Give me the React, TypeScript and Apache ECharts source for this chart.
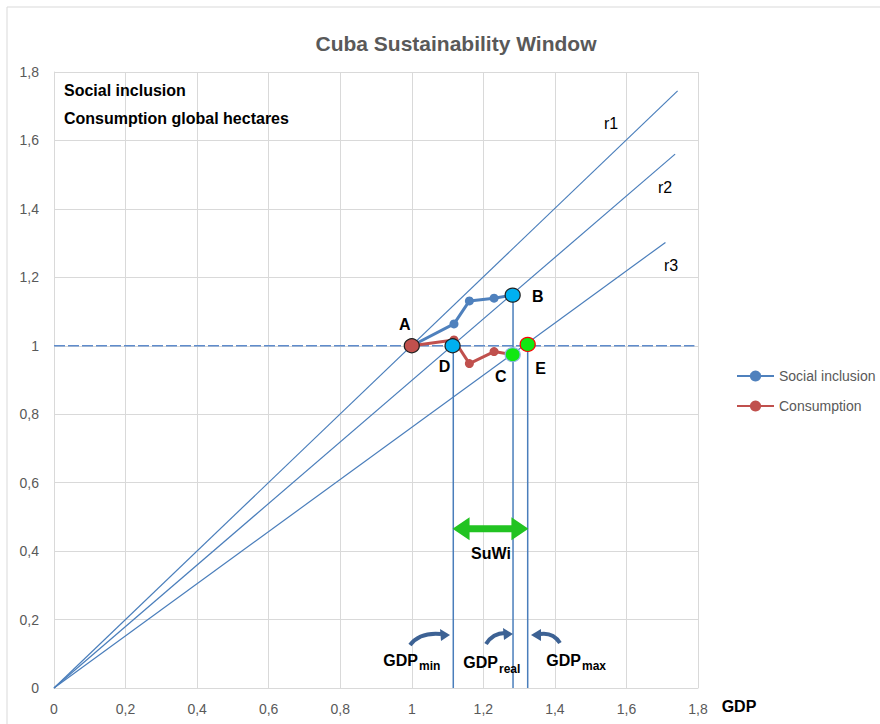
import React, { useEffect, useRef } from "react";
import * as echarts from "echarts";

// ---- data ----
const socialInclusion: [number, number][] = [
  [1.0, 1.0],
  [1.118, 1.064],
  [1.161, 1.131],
  [1.23, 1.139],
  [1.282, 1.148],
];
const consumption: [number, number][] = [
  [1.0, 1.0],
  [1.118, 1.017],
  [1.161, 0.948],
  [1.23, 0.983],
  [1.282, 0.974],
];
const rayR1: [number, number][] = [[0, 0], [1.743, 1.745]];
const rayR2: [number, number][] = [[0, 0], [1.736, 1.56]];
const rayR3: [number, number][] = [[0, 0], [1.709, 1.302]];
const baseline: [number, number][] = [[0, 1], [1.79, 1]];
const pointNames = ["A", "D", "B", "C", "E"];
const pointValues: [number, number][] = [
  [1.0, 1.0],
  [1.114, 1.0],
  [1.282, 1.148],
  [1.282, 0.974],
  [1.324, 1.004],
];
const gdpMinLine: [number, number][] = [[1.116, 1.0], [1.116, 0]];
const gdpRealLine: [number, number][] = [[1.283, 1.148], [1.283, 0]];
const gdpMaxLine: [number, number][] = [[1.324, 1.004], [1.324, 0]];
const suwiFrom: [number, number] = [1.114, 0.465];
const suwiTo: [number, number] = [1.326, 0.465];
const axisTicks = [0, 0.2, 0.4, 0.6, 0.8, 1, 1.2, 1.4, 1.6, 1.8];

const FONT = "'Liberation Sans', Arial, sans-serif";
const LINE_BLUE = "#4a7ebb";

const fmt = (v: number) => {
  const r = Math.round(v * 10) / 10;
  return Number.isInteger(r) ? String(r) : r.toFixed(1).replace(".", ",");
};

const pointStyles = [
  { color: "#c0504d", borderColor: "#1f1f1f", label: { offset: [-7, -21] } },
  { color: "#00b0f0", borderColor: "#1f1f1f", label: { offset: [-8, 21] } },
  { color: "#00b0f0", borderColor: "#1f1f1f", label: { offset: [25, 1] } },
  { color: "#11e811", borderColor: "#8fb4e3", label: { offset: [-12, 22] } },
  { color: "#11e811", borderColor: "#ff0000", label: { offset: [13, 24] } },
];

export default function App() {
  const ref = useRef<HTMLDivElement>(null);
  useEffect(() => {
    if (!ref.current) return;
    const chart = echarts.init(ref.current, undefined, { renderer: "svg" });
    const thinLine = (name: string, data: [number, number][], extra: any = {}) => ({
      name,
      type: "line",
      data,
      symbol: "none",
      silent: true,
      clip: false,
      lineStyle: { color: LINE_BLUE, width: 1.2, ...extra },
      z: 2,
    });
    chart.setOption({
      animation: false,
      backgroundColor: "#ffffff",
      textStyle: { fontFamily: FONT },
      grid: { left: 54, top: 72, right: 182, bottom: 36, containLabel: false, outerBoundsMode: "none" },
      legend: {
        data: ["Social inclusion", "Consumption"],
        orient: "vertical",
        left: 731,
        top: 364,
        itemWidth: 37,
        itemHeight: 14,
        itemGap: 16,
        textStyle: { color: "#595959", fontSize: 14, fontFamily: FONT },
      },
      xAxis: {
        type: "value",
        min: axisTicks[0],
        max: axisTicks[axisTicks.length - 1],
        interval: 0.2,
        axisLine: { show: true, lineStyle: { color: "#d9d9d9" } },
        axisTick: { show: false },
        splitLine: { show: true, lineStyle: { color: "#d9d9d9" } },
        axisLabel: { color: "#595959", fontSize: 14, margin: 14, formatter: fmt, showMaxLabel: true },
      },
      yAxis: {
        type: "value",
        min: axisTicks[0],
        max: axisTicks[axisTicks.length - 1],
        interval: 0.2,
        axisLine: { show: true, lineStyle: { color: "#d9d9d9" } },
        axisTick: { show: false },
        splitLine: { show: true, lineStyle: { color: "#d9d9d9" } },
        axisLabel: { color: "#595959", fontSize: 14, margin: 15, formatter: fmt, showMaxLabel: true },
      },
      series: [
        thinLine("r1", rayR1),
        thinLine("r2", rayR2),
        thinLine("r3", rayR3),
        thinLine("baseline", baseline, { type: [11, 3], width: 1.6, color: "#5f8ccc" }),
        thinLine("GDPmin", gdpMinLine, { width: 1.5 }),
        thinLine("GDPreal", gdpRealLine, { width: 1.5 }),
        thinLine("GDPmax", gdpMaxLine, { width: 1.5 }),
        {
          name: "Social inclusion",
          type: "line",
          data: socialInclusion,
          symbol: "circle",
          symbolSize: 9,
          lineStyle: { color: "#4f81bd", width: 3 },
          itemStyle: { color: "#4f81bd" },
          z: 3,
        },
        {
          name: "Consumption",
          type: "line",
          data: consumption,
          symbol: "circle",
          symbolSize: 9,
          lineStyle: { color: "#c0504d", width: 3 },
          itemStyle: { color: "#c0504d" },
          z: 3,
        },
        {
          name: "points",
          type: "scatter",
          symbol: "circle",
          symbolSize: [15, 14],
          z: 5,
          itemStyle: { opacity: 1 },
          data: pointValues.map((v, i) => ({
            name: pointNames[i],
            value: v,
            itemStyle: {
              color: pointStyles[i].color,
              borderColor: pointStyles[i].borderColor,
              borderWidth: 1.2,
              opacity: 1,
            },
            label: {
              show: true,
              formatter: pointNames[i],
              position: "inside",
              offset: pointStyles[i].label.offset,
              color: "#000",
              fontSize: 16,
              fontWeight: "bold",
              fontFamily: FONT,
            },
          })),
        },
      ],
    });

    const p1 = chart.convertToPixel({ gridIndex: 0 }, suwiFrom) as number[];
    const p2 = chart.convertToPixel({ gridIndex: 0 }, suwiTo) as number[];
    const yA = p1[1];
    const hl = 17, hh = 11.5, sh = 3.5;
    const arrowBlue = "#3d6294";
    const txt = (x: number, y: number, text: string, size: number, bold: boolean, align = "left", color = "#000") => ({
      type: "text",
      x,
      y,
      z: 20,
      style: {
        text,
        fontSize: size,
        fontWeight: bold ? "bold" : "normal",
        fontFamily: FONT,
        fill: color,
        textAlign: align,
        textVerticalAlign: "middle",
      },
    });
    const curve = (x1: number, y1: number, cx: number, cy: number, x2: number, y2: number) => ({
      type: "bezierCurve",
      z: 20,
      shape: { x1, y1, x2, y2, cpx1: cx, cpy1: cy },
      style: { stroke: arrowBlue, lineWidth: 4, fill: null },
    });
    const head = (pts: number[][]) => ({
      type: "polygon",
      z: 20,
      shape: { points: pts },
      style: { fill: arrowBlue },
    });
    chart.setOption({
      graphic: [
        {
          type: "rect",
          z: -10,
          shape: { x: 7, y: 7, width: 900, height: 800 },
          style: { fill: "none", stroke: "#d9d9d9", lineWidth: 1 },
          silent: true,
        },
        txt(456, 43, "Cuba Sustainability Window", 21, true, "center", "#595959"),
        txt(64, 90, "Social inclusion", 16, true),
        txt(64, 118, "Consumption global hectares", 16, true),
        txt(611, 123, "r1", 16, false, "center"),
        txt(665, 187, "r2", 16, false, "center"),
        txt(671, 265, "r3", 16, false, "center"),
        txt(739, 706, "GDP", 16, true, "center"),
        txt(491, 553, "SuWi", 16, true, "center"),
        {
          type: "polygon",
          z: 20,
          shape: {
            points: [
              [p1[0], yA],
              [p1[0] + hl, yA - hh],
              [p1[0] + hl, yA - sh],
              [p2[0] - hl, yA - sh],
              [p2[0] - hl, yA - hh],
              [p2[0], yA],
              [p2[0] - hl, yA + hh],
              [p2[0] - hl, yA + sh],
              [p1[0] + hl, yA + sh],
              [p1[0] + hl, yA + hh],
            ],
          },
          style: { fill: "#22c322" },
        },
        // GDP_min
        txt(418, 660, "GDP", 16, true, "right"),
        txt(419, 666, "min", 12, true),
        curve(410, 645, 420, 632, 441, 634),
        head([[450, 635], [440, 629], [441, 641]]),
        // GDP_real
        txt(498, 662, "GDP", 16, true, "right"),
        txt(499, 669, "real", 12, true),
        curve(486, 644, 493, 633, 505, 633),
        head([[513, 634], [503, 628], [504, 640]]),
        // GDP_max
        txt(581, 660, "GDP", 16, true, "right"),
        txt(582, 666, "max", 12, true),
        curve(560, 643, 553, 632, 540, 634),
        head([[531, 635], [541, 629], [541, 641]]),
      ],
    });

    return () => chart.dispose();
  }, []);
  return <div ref={ref} style={{ position: "absolute", left: 0, top: 0, width: 880, height: 724 }} />;
}
